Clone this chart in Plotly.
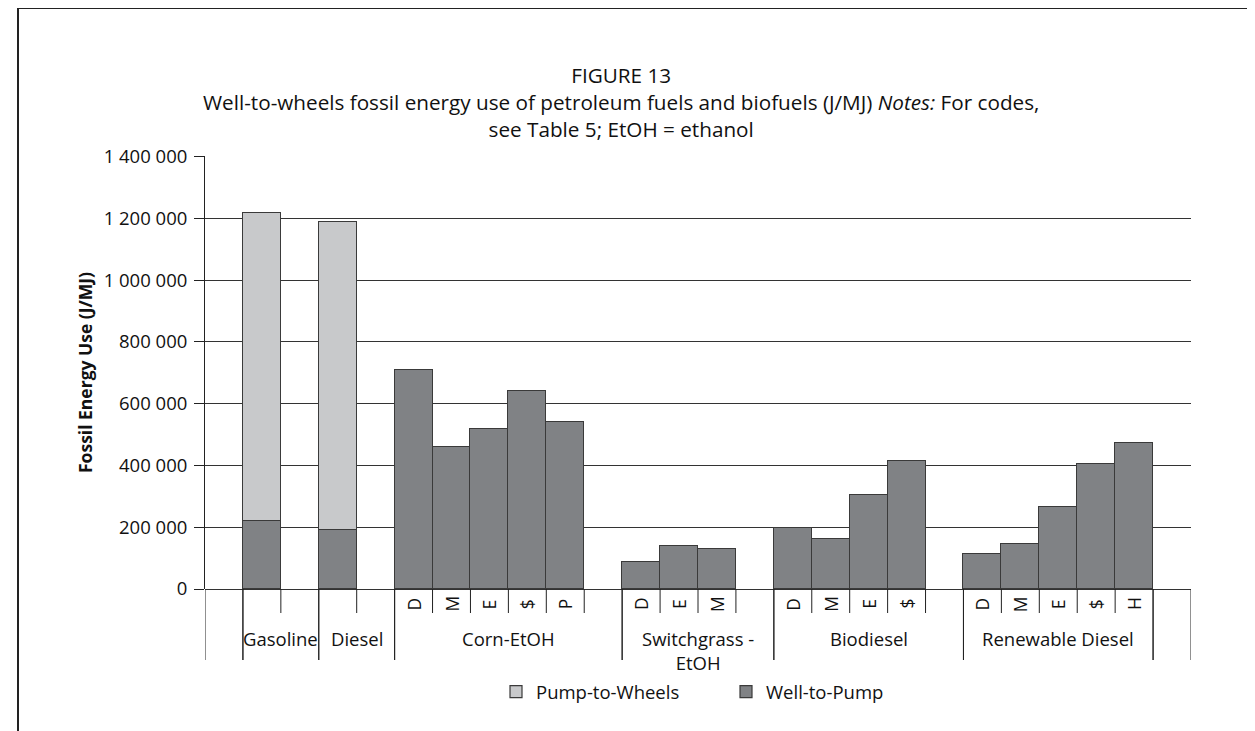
import plotly.graph_objects as go

# ---- data ----
groups = ["", "Gasoline", "Diesel", "Corn-EtOH", "Switchgrass -<br>EtOH",
          "Biodiesel", "Renewable Diesel", ""]
# per group: sub-category codes; None = empty slot
codes = [
    [None],
    ["", None],
    ["", None],
    ["D", "M", "E", "$", "P", None],
    ["D", "E", "M", None],
    ["D", "M", "E", "$", None],
    ["D", "M", "E", "$", "H"],
    [None],
]
well_to_pump = [220000, 190000,
                709000, 461000, 517000, 641000, 541000,
                87000, 138000, 129000,
                198000, 161000, 304000, 415000,
                114000, 145000, 266000, 405000, 471000]
pump_to_wheels = [997000, 998000,
                  0, 0, 0, 0, 0,
                  0, 0, 0,
                  0, 0, 0, 0,
                  0, 0, 0, 0, 0]
y_ticks = [0, 200000, 400000, 600000, 800000, 1000000, 1200000, 1400000]

title_text = ("FIGURE 13<br>"
              "Well-to-wheels fossil energy use of petroleum fuels and biofuels (J/MJ) "
              "<i>Notes:</i> For codes,<br>"
              "see Table 5; EtOH = ethanol")
y_title = "<b>Fossil Energy Use (J/MJ)</b>"

# ---- build slot structure ----
bar_x, sub_labels = [], []
group_bounds = []
slot = 0
for g, cs in zip(groups, codes):
    start = slot
    for c in cs:
        if c is not None:
            bar_x.append(slot)
            sub_labels.append((slot, c))
        slot += 1
    group_bounds.append((start, slot))
n_slots = slot

FONT = "Open Sans, Noto Sans, DejaVu Sans, sans-serif"
DARK = "#808285"
LIGHT = "#c8c9cb"
EDGE = "#3a3a3a"

fig = go.Figure()
fig.add_trace(go.Bar(x=bar_x, y=well_to_pump, name="Well-to-Pump",
                     marker=dict(color=DARK, line=dict(color=EDGE, width=1.2))))
fig.add_trace(go.Bar(x=bar_x, y=pump_to_wheels, name="Pump-to-Wheels",
                     marker=dict(color=LIGHT, line=dict(color=EDGE, width=1.2))))

shapes, annotations = [], []

# screen geometry (page has an 8px body margin)
OFF = 8
PX0, PX1, PY0, PY1 = 205, 1191, 156, 589
W, H = 1255, 731
def py(p):
    return (PY1 - p) / (PY1 - PY0)
def pxp(p):
    return (p - PX0) / (PX1 - PX0)

long_y = py(660)
short_y = py(613)
for i, (s, e) in enumerate(group_bounds):
    for b in (s - 0.5, e - 0.5):
        shapes.append(dict(type="line", xref="x", yref="paper", x0=b, x1=b,
                           y0=0, y1=long_y, line=dict(color="#222", width=1)))
    for b in range(s + 1, e):
        shapes.append(dict(type="line", xref="x", yref="paper", x0=b - 0.5, x1=b - 0.5,
                           y0=0, y1=short_y, line=dict(color="#222", width=1)))
    if groups[i]:
        annotations.append(dict(x=(s + e - 1) / 2, y=py(624), xref="x", yref="paper",
                                text=groups[i], showarrow=False, yanchor="top",
                                font=dict(size=18.5, color="#111", family=FONT)))
for s, c in sub_labels:
    if c:
        annotations.append(dict(x=s, y=py(604), xref="x", yref="paper", text=c,
                                showarrow=False, textangle=-90, yanchor="middle",
                                font=dict(size=17.5, color="#111", family=FONT)))

# title
annotations.append(dict(x=pxp(621), y=py(102.5), xref="paper", yref="paper", text=title_text,
                        showarrow=False, yanchor="middle", xanchor="center", align="center",
                        font=dict(size=20.7, color="#111", family=FONT)))

# outer frame
shapes.append(dict(type="rect", xref="paper", yref="paper",
                   x0=pxp(18), x1=pxp(1275), y0=py(8), y1=py(760),
                   line=dict(color="#222", width=2)))

fig.update_layout(
    width=W, height=H,
    margin=dict(l=PX0 - OFF, r=W - (PX1 - OFF), t=PY0 - OFF, b=H - (PY1 - OFF), pad=0),
    paper_bgcolor="white", plot_bgcolor="white",
    barmode="stack", bargap=0,
    separators=". ",
    font=dict(family=FONT, size=18, color="#111"),
    xaxis=dict(range=[-0.5, n_slots - 0.5], showticklabels=False, showgrid=False,
               zeroline=False, ticks="", showline=False, fixedrange=True),
    yaxis=dict(range=[0, 1401500], tickvals=y_ticks, tickformat=",d",
               showgrid=True, gridcolor="#333", gridwidth=1,
               zeroline=True, zerolinecolor="#333", zerolinewidth=1,
               showline=True, linecolor="#222", linewidth=1,
               ticks="outside", ticklen=10, tickcolor="#222",
               ticklabelstandoff=3,
               tickfont=dict(size=18.5, family=FONT, color="#111"),
               title=dict(text=y_title, font=dict(size=17.5, family=FONT, color="#111"),
                          standoff=6)),
    legend=dict(orientation="h", x=pxp(496), xanchor="left", y=py(692), yanchor="middle",
                traceorder="reversed", font=dict(size=18.5, family=FONT, color="#111"),
                entrywidth=185, entrywidthmode="pixels", bgcolor="rgba(0,0,0,0)"),
    shapes=shapes, annotations=annotations,
    showlegend=True,
)

fig.write_html("out.html")
